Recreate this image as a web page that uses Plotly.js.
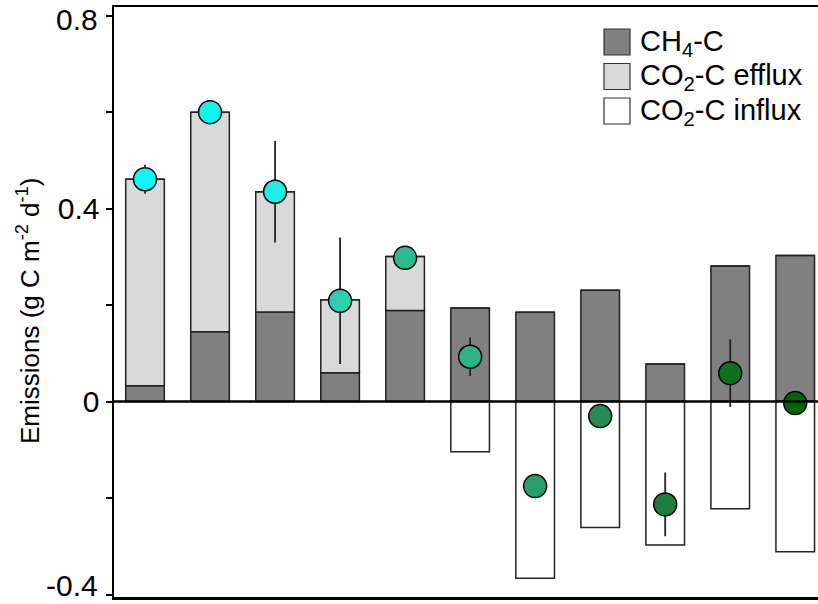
<!DOCTYPE html>
<html>
<head>
<meta charset="utf-8">
<script src="https://cdn.plot.ly/plotly-3.0.1.min.js"></script>
<style>html,body{margin:0;padding:0;background:#fff;overflow:hidden}#chart{width:818px;height:604px}</style>
</head>
<body>
<div id="chart"></div>
<script>
// ---- data ----
const sites = ['S1','S2','S3','S4','S5','S6','S7','S8','S9','S10','S11'];
const ch4C = [0.033, 0.145, 0.186, 0.060, 0.189, 0.194, 0.185, 0.231, 0.078, 0.281, 0.303];
const co2Efflux = [0.428, 0.455, 0.249, 0.151, 0.112, 0, 0, 0, 0, 0, 0];
const co2Influx = [0, 0, 0, 0, 0, -0.104, -0.366, -0.261, -0.297, -0.222, -0.311];
const netC = [0.461, 0.600, 0.435, 0.209, 0.298, 0.093, -0.175, -0.030, -0.213, 0.059, -0.003];
const netErr = [0.030, 0.015, 0.105, 0.131, 0.015, 0.040, 0.015, 0.015, 0.066, 0.070, 0.015];
const dotColors = ['#00FFFF','#10F3EC','#1FEDE4','#2ECFB0','#2EBA90','#2DB386','#26A068','#228C52','#1E7F3C','#0F7020','#006400'];
const yTickVals = [-0.4, -0.2, 0, 0.2, 0.4, 0.6, 0.8];
const yTickText = ['', '', '0', '', '0.4', '', ''];
const edgeTickVals = [0.8, -0.4];
const edgeTickText = ['0.8', '-0.4'];
const legendNames = ['CH<sub>4</sub>-C', 'CO<sub>2</sub>-C efflux', 'CO<sub>2</sub>-C influx'];
const legendFills = ['#808080', '#D9D9D9', '#FFFFFF'];
const yTitle = 'Emissions (g C m<sup>-2</sup> d<sup>-1</sup>)';

const X_RANGE = [-0.477, 10.35];
const Y_RANGE = [-0.405, 0.818];

const W = 818, H = 604, ML = 114, MR = 0, MT = 7, MB = 7;
const PW = W - ML - MR, PH = H - MT - MB;
const px2x = p => (p - ML) / PW;
const px2y = p => (H - MB - p) / PH;

const edge = {color: '#222', width: 1.5};
const barW = 0.594;

const traces = [
  {type: 'bar', x: sites, y: ch4C, width: barW, marker: {color: legendFills[0], line: edge}, hoverinfo: 'skip', showlegend: false},
  {type: 'bar', x: sites, y: co2Efflux, width: barW, marker: {color: legendFills[1], line: edge}, hoverinfo: 'skip', showlegend: false},
  {type: 'bar', x: sites, y: co2Influx, width: barW, marker: {color: legendFills[2], line: edge}, hoverinfo: 'skip', showlegend: false},
  {type: 'scatter', mode: 'lines', x: [X_RANGE[0], X_RANGE[1]], y: [0, 0], xaxis: 'x2', line: {color: '#000', width: 2.5}, hoverinfo: 'skip', showlegend: false},
  {type: 'scatter', mode: 'markers', x: sites, y: netC,
   error_y: {type: 'data', array: netErr, visible: true, color: '#222', thickness: 1.8, width: 0},
   marker: {size: 23, color: dotColors, line: {color: '#000', width: 1.5}}, hoverinfo: 'skip', showlegend: false}
];

const shapes = [];
const annotations = [];
const rowCenters = [42, 76.5, 111];
for (let i = 0; i < legendNames.length; i++) {
  const c = rowCenters[i];
  shapes.push({type: 'rect', xref: 'paper', yref: 'paper', x0: px2x(604), x1: px2x(630), y0: px2y(c - 13), y1: px2y(c + 13),
    fillcolor: legendFills[i], line: {color: '#333', width: 1.2}});
  annotations.push({xref: 'paper', yref: 'paper', x: px2x(638), y: px2y(c + 1), xanchor: 'left', yanchor: 'middle',
    text: legendNames[i], showarrow: false, font: {size: 29, color: '#000'}});
}
// end tick labels, nudged inward like the reference so they stay inside the figure
const edgeShift = [-4, 9];
for (let i = 0; i < edgeTickVals.length; i++) {
  annotations.push({xref: 'paper', yref: 'y', x: px2x(100), y: edgeTickVals[i], xanchor: 'right', yanchor: 'middle',
    yshift: edgeShift[i], text: edgeTickText[i], showarrow: false, font: {size: 30, color: '#000'}});
}
annotations.push({xref: 'paper', yref: 'paper', x: px2x(28), y: px2y(311), xanchor: 'center', yanchor: 'middle',
  textangle: -90, text: yTitle, showarrow: false, font: {size: 26, color: '#000'}});

const layout = {
  width: W, height: H,
  margin: {l: ML, r: MR, t: MT, b: MB, pad: 0},
  paper_bgcolor: '#fff', plot_bgcolor: '#fff',
  font: {family: 'Liberation Sans, Arial, sans-serif', color: '#000'},
  barmode: 'relative',
  xaxis: {range: X_RANGE, showticklabels: false, ticks: '', showgrid: false, zeroline: false,
          showline: true, mirror: true, linecolor: '#000', linewidth: 2.5, fixedrange: true},
  xaxis2: {range: X_RANGE, overlaying: 'x', visible: false, fixedrange: true},
  yaxis: {range: Y_RANGE, tickvals: yTickVals, ticktext: yTickText, ticks: 'outside', ticklen: 6, tickwidth: 2,
          tickcolor: '#000', showgrid: false, zeroline: false, showline: true, linecolor: '#000', linewidth: 2.5,
          tickfont: {size: 30}},
  shapes: shapes,
  annotations: annotations,
  showlegend: false
};

Plotly.newPlot('chart', traces, layout, {staticPlot: true, displayModeBar: false});
</script>
</body>
</html>
